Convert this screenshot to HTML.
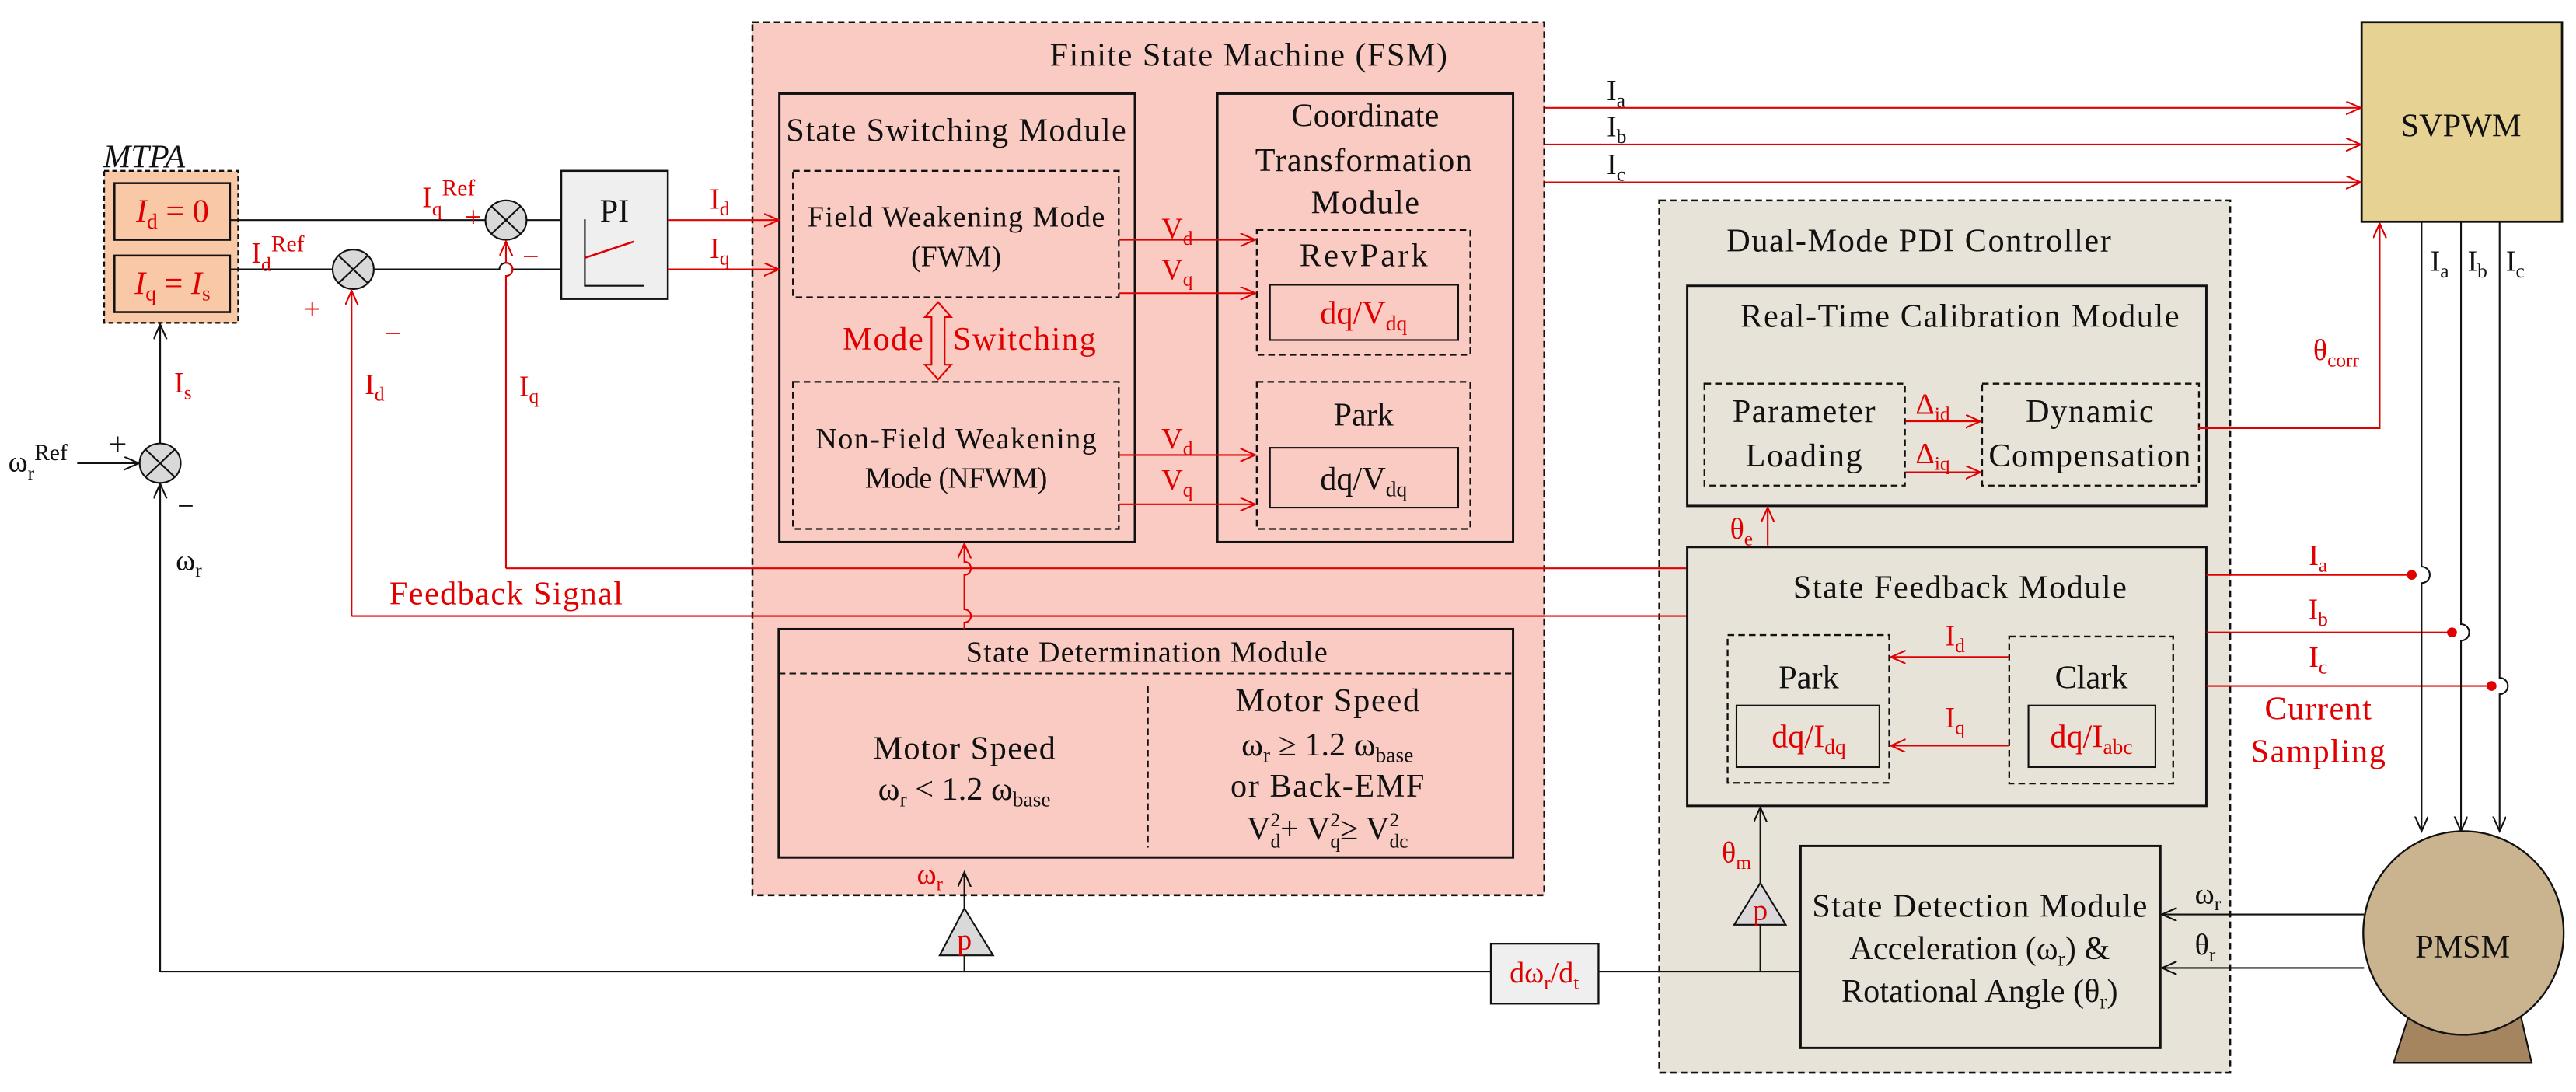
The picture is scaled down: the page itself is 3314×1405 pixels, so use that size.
<!DOCTYPE html>
<html><head><meta charset="utf-8"><style>
html,body{margin:0;padding:0;background:#fff;}
svg{display:block;}
svg text{font-family:"Liberation Serif","Times New Roman",serif;font-size:20px;fill:#111;}
svg text.r{fill:#e00000;}
svg text.s{font-size:18px;}
svg text.c{text-anchor:middle;}
</style></head><body>
<svg width="3314" height="1405" viewBox="0 0 1568 664.8" preserveAspectRatio="none" xmlns="http://www.w3.org/2000/svg" font-family="Liberation Serif, serif">
<defs>
<marker id="ab" markerUnits="userSpaceOnUse" markerWidth="12" markerHeight="10" refX="9" refY="4" orient="auto"><path d="M0,0 L9,4 L0,8" fill="none" stroke="#111" stroke-width="1"/></marker>
<marker id="ar" markerUnits="userSpaceOnUse" markerWidth="12" markerHeight="10" refX="9" refY="4" orient="auto"><path d="M0,0 L9,4 L0,8" fill="none" stroke="#e00000" stroke-width="1"/></marker>
</defs>

<rect x="458" y="13.6" width="482" height="531.4" fill="#f9cbc3" stroke="#111" stroke-width="1.2" stroke-dasharray="4,2.5"/>
<rect x="1010" y="122" width="347.5" height="531" fill="#e8e3d8" stroke="#111" stroke-width="1.2" stroke-dasharray="4,2.5"/>

<text x="760" y="40" class="c" textLength="242">Finite State Machine (FSM)</text>
<rect x="474.4" y="57" width="216.4" height="273" fill="none" stroke="#111" stroke-width="1.4"/>
<text x="582" y="86" class="c" textLength="207">State Switching Module</text>
<rect x="482.7" y="104" width="198.3" height="77" fill="none" stroke="#111" stroke-width="1.1" stroke-dasharray="4,2.5"/>
<text x="582" y="138" class="c s" textLength="181">Field Weakening Mode</text>
<text x="582" y="162" class="c s">(FWM)</text>
<text x="513" y="213" class="r" textLength="49">Mode</text>
<text x="580" y="213" class="r" textLength="87">Switching</text>
<path d="M571,184 L579,193 L575,193 L575,222 L579,222 L571,231 L563,222 L567,222 L567,193 L563,193 Z" fill="none" stroke="#e00000" stroke-width="1"/>
<rect x="482.7" y="232.5" width="198.3" height="89.5" fill="none" stroke="#111" stroke-width="1.1" stroke-dasharray="4,2.5"/>
<text x="582" y="273" class="c s" textLength="171">Non-Field Weakening</text>
<text x="582" y="297" class="c s" textLength="111">Mode (NFWM)</text>

<rect x="741" y="57" width="180" height="273" fill="none" stroke="#111" stroke-width="1.4"/>
<text x="831" y="77" class="c" textLength="90">Coordinate</text>
<text x="830" y="104" class="c" textLength="132">Transformation</text>
<text x="831" y="130" class="c" textLength="66">Module</text>
<rect x="765" y="140" width="130" height="76" fill="none" stroke="#111" stroke-width="1.1" stroke-dasharray="4,2.5"/>
<text x="830" y="162" class="c" textLength="78">RevPark</text>
<rect x="773" y="173.4" width="114.6" height="33.6" fill="none" stroke="#111" stroke-width="1"/>
<text x="830" y="197" class="c r">dq/V<tspan font-size="13" dy="4">dq</tspan></text>
<rect x="765" y="232.5" width="130" height="89.5" fill="none" stroke="#111" stroke-width="1.1" stroke-dasharray="4,2.5"/>
<text x="830" y="259" class="c">Park</text>
<rect x="773" y="272.6" width="114.6" height="36.4" fill="none" stroke="#111" stroke-width="1"/>
<text x="830" y="298" class="c">dq/V<tspan font-size="13" dy="4">dq</tspan></text>

<g stroke="#e00000" stroke-width="1" fill="none" marker-end="url(#ar)">
<path d="M681,146 H764"/><path d="M681,178.5 H764"/><path d="M681,277 H764"/><path d="M681,307 H764"/>
</g>
<text x="707" y="145" class="r s">V<tspan font-size="12" dy="4">d</tspan></text>
<text x="707" y="170" class="r s">V<tspan font-size="12" dy="4">q</tspan></text>
<text x="707" y="273" class="r s">V<tspan font-size="12" dy="4">d</tspan></text>
<text x="707" y="298" class="r s">V<tspan font-size="12" dy="4">q</tspan></text>

<rect x="474" y="383" width="447" height="139" fill="none" stroke="#111" stroke-width="1.4"/>
<line x1="474" y1="410" x2="921" y2="410" stroke="#111" stroke-width="1" stroke-dasharray="4,2.5"/>
<line x1="698.7" y1="417.6" x2="698.7" y2="516" stroke="#111" stroke-width="1" stroke-dasharray="4,2.5"/>
<text x="698" y="403" class="c s" textLength="220">State Determination Module</text>
<text x="587" y="462" class="c" textLength="111">Motor Speed</text>
<text x="587" y="487" class="c">ω<tspan font-size="13" dy="4">r</tspan><tspan dy="-4"> &lt; 1.2 ω</tspan><tspan font-size="13" dy="4">base</tspan></text>
<text x="808" y="433" class="c" textLength="112">Motor Speed</text>
<text x="808" y="460" class="c">ω<tspan font-size="13" dy="4">r</tspan><tspan dy="-4"> ≥ 1.2 ω</tspan><tspan font-size="13" dy="4">base</tspan></text>
<text x="808" y="485" class="c" textLength="118">or Back-EMF</text>
<text x="808" y="511" class="c">V<tspan font-size="12" dy="-8">2</tspan><tspan font-size="12" dx="-6" dy="13">d</tspan><tspan dy="-5">+ V</tspan><tspan font-size="12" dy="-8">2</tspan><tspan font-size="12" dx="-6" dy="13">q</tspan><tspan dy="-5">≥ V</tspan><tspan font-size="12" dy="-8">2</tspan><tspan font-size="12" dx="-6" dy="13">dc</tspan></text>

<path d="M587,383 V379 A4,4 0 0 0 587,371 V350 A4,4 0 0 0 587,342 V331" fill="none" stroke="#e00000" stroke-width="1" marker-end="url(#ar)"/>

<text x="63" y="102" font-style="italic" font-size="21">MTPA</text>
<rect x="63.4" y="104" width="81.6" height="92.5" fill="#f8c8a7" stroke="#111" stroke-width="1.1" stroke-dasharray="3,2"/>
<rect x="69.7" y="111.5" width="70.3" height="34.5" fill="none" stroke="#111" stroke-width="1.2"/>
<rect x="69.7" y="155.6" width="70.3" height="34.4" fill="none" stroke="#111" stroke-width="1.2"/>
<text x="105" y="135" class="c r" font-style="italic">I<tspan font-size="13" dy="4" font-style="normal">d</tspan><tspan dy="-4" font-style="normal"> = 0</tspan></text>
<text x="105" y="179" class="c r" font-style="italic">I<tspan font-size="13" dy="4" font-style="normal">q</tspan><tspan dy="-4" font-style="normal"> = </tspan>I<tspan font-size="13" dy="4" font-style="normal">s</tspan></text>

<g fill="#d9d9d9" stroke="#111" stroke-width="1">
<ellipse cx="308" cy="134" rx="12.5" ry="12"/>
<ellipse cx="215" cy="164" rx="12.5" ry="12"/>
<ellipse cx="97.5" cy="282" rx="12.5" ry="12"/>
</g>
<g stroke="#111" stroke-width="1">
<path d="M299,125.5 L317,142.5 M317,125.5 L299,142.5"/>
<path d="M206,155.5 L224,172.5 M224,155.5 L206,172.5"/>
<path d="M88.5,273.5 L106.5,290.5 M106.5,273.5 L88.5,290.5"/>
</g>

<rect x="341.6" y="104" width="64.9" height="78" fill="#efefef" stroke="#111" stroke-width="1.2"/>
<text x="374" y="135" class="c" font-size="24">PI</text>
<path d="M356,133.5 V174 H392" fill="none" stroke="#111" stroke-width="1"/>
<line x1="356" y1="157" x2="386" y2="147" stroke="#e00000" stroke-width="1.2"/>

<g stroke="#111" stroke-width="1" fill="none">
<path d="M140,134 H295.5"/><path d="M320.5,134 H341.6"/>
<path d="M140,164 H202.5"/>
<path d="M227.5,164 H304 A4,4 0 0 1 312,164 H341.6"/>
<path d="M97.5,270 V197.5" marker-end="url(#ab)"/>
<path d="M47,282 H84.5" marker-end="url(#ab)"/>
<path d="M97.5,591.5 V294.5" marker-end="url(#ab)"/>
<path d="M97.5,591.5 H907.5"/>
<path d="M973,591.5 H1096"/>
<path d="M587,591.5 V581.6"/>
<path d="M587,553 V531" marker-end="url(#ab)"/>
<path d="M1071.5,591.5 V563"/>
<path d="M1071.5,537.6 V491.5" marker-end="url(#ab)"/>
</g>

<g stroke="#e00000" stroke-width="1" fill="none">
<path d="M406.5,134 H474" marker-end="url(#ar)"/>
<path d="M406.5,164 H474" marker-end="url(#ar)"/>
<path d="M308,346 V168 A4,4 0 0 0 308,160 V147" marker-end="url(#ar)"/>
<path d="M308,346 H1027"/>
<path d="M214,375 V177" marker-end="url(#ar)"/>
<path d="M214,375 H1027"/>
</g>
<text x="432" y="127" class="r s">I<tspan font-size="12" dy="4">d</tspan></text>
<text x="432" y="157" class="r s">I<tspan font-size="12" dy="4">q</tspan></text>
<text x="257" y="126" class="r s">I<tspan font-size="12" dy="5">q</tspan><tspan font-size="14" dy="-12">Ref</tspan></text>
<text x="283" y="138" class="r s">+</text>
<text x="318" y="162" class="r s">−</text>
<text x="153" y="160" class="r s">I<tspan font-size="12" dy="5">d</tspan><tspan font-size="14" dy="-12">Ref</tspan></text>
<text x="185" y="194" class="r s">+</text>
<text x="234" y="209" class="r s">−</text>
<text x="222" y="240" class="r s">I<tspan font-size="12" dy="4">d</tspan></text>
<text x="316" y="241" class="r s">I<tspan font-size="12" dy="4">q</tspan></text>
<text x="106" y="239" class="r s">I<tspan font-size="12" dy="4">s</tspan></text>
<text x="5" y="287" class="s">ω<tspan font-size="12" dy="5">r</tspan><tspan font-size="14" dy="-12">Ref</tspan></text>
<text x="66" y="277" font-size="13">+</text>
<text x="108" y="314" class="s">−</text>
<text x="107" y="347" class="s">ω<tspan font-size="12" dy="4">r</tspan></text>
<text x="237" y="368" class="r" textLength="142">Feedback Signal</text>

<path d="M572,581.6 L587,553 L604.5,581.6 Z" fill="#d9d9d9" stroke="#111" stroke-width="1"/>
<text x="587" y="578" class="c r s">p</text>
<text x="566" y="538" class="c r s">ω<tspan font-size="12" dy="4">r</tspan></text>
<rect x="907.5" y="574.5" width="65.5" height="36.5" fill="#efefef" stroke="#111" stroke-width="1.1"/>
<text x="940" y="598" class="c r s">dω<tspan font-size="12" dy="4">r</tspan><tspan dy="-4">/d</tspan><tspan font-size="12" dy="4">t</tspan></text>

<rect x="1437.5" y="13.6" width="122" height="121.4" fill="#e6d293" stroke="#111" stroke-width="1.3"/>
<text x="1498" y="83" class="c" font-size="23">SVPWM</text>
<g stroke="#e00000" stroke-width="1" fill="none" marker-end="url(#ar)">
<path d="M940,65.7 H1437"/><path d="M940,88 H1437"/><path d="M940,111 H1437"/>
</g>
<text x="978" y="61" class="s">I<tspan font-size="12" dy="4">a</tspan></text>
<text x="978" y="83" class="s">I<tspan font-size="12" dy="4">b</tspan></text>
<text x="978" y="106" class="s">I<tspan font-size="12" dy="4">c</tspan></text>

<text x="1168" y="153" class="c" textLength="234">Dual-Mode PDI Controller</text>
<rect x="1027" y="174" width="316" height="134" fill="none" stroke="#111" stroke-width="1.4"/>
<text x="1193" y="199" class="c" textLength="267">Real-Time Calibration Module</text>
<rect x="1037.5" y="233.6" width="122" height="62" fill="none" stroke="#111" stroke-width="1.1" stroke-dasharray="4,2.5"/>
<text x="1098" y="257" class="c" textLength="87">Parameter</text>
<text x="1098" y="284" class="c" textLength="71">Loading</text>
<rect x="1206.5" y="233.6" width="132" height="62" fill="none" stroke="#111" stroke-width="1.1" stroke-dasharray="4,2.5"/>
<text x="1272" y="257" class="c" textLength="78">Dynamic</text>
<text x="1272" y="284" class="c" textLength="123">Compensation</text>
<g stroke="#e00000" stroke-width="1" fill="none" marker-end="url(#ar)">
<path d="M1160,256.5 H1205.5"/><path d="M1160,287.5 H1205.5"/>
<path d="M1338,260.7 H1448.5 V136"/>
<path d="M1076,332 V309"/>
</g>
<text x="1166" y="252" class="r s">Δ<tspan font-size="12" dy="4">id</tspan></text>
<text x="1166" y="282" class="r s">Δ<tspan font-size="12" dy="4">iq</tspan></text>
<text x="1422" y="219" class="c r s">θ<tspan font-size="12" dy="4">corr</tspan></text>
<text x="1060" y="328" class="c r s">θ<tspan font-size="12" dy="4">e</tspan></text>

<rect x="1027" y="333" width="316" height="157.6" fill="none" stroke="#111" stroke-width="1.4"/>
<text x="1193" y="364" class="c" textLength="203">State Feedback Module</text>
<rect x="1051.6" y="386.6" width="98.4" height="90" fill="none" stroke="#111" stroke-width="1.1" stroke-dasharray="4,2.5"/>
<text x="1101" y="419" class="c">Park</text>
<rect x="1057" y="429.5" width="87" height="37.5" fill="none" stroke="#111" stroke-width="1"/>
<text x="1101" y="455" class="c r">dq/I<tspan font-size="13" dy="4">dq</tspan></text>
<rect x="1223" y="387.5" width="99.8" height="89.5" fill="none" stroke="#111" stroke-width="1.1" stroke-dasharray="4,2.5"/>
<text x="1273" y="419" class="c">Clark</text>
<rect x="1234.7" y="429.5" width="77.3" height="37.5" fill="none" stroke="#111" stroke-width="1"/>
<text x="1273" y="455" class="c r">dq/I<tspan font-size="13" dy="4">abc</tspan></text>
<g stroke="#e00000" stroke-width="1" fill="none" marker-end="url(#ar)">
<path d="M1223,400 H1151"/><path d="M1223,454 H1151"/>
</g>
<text x="1190" y="393" class="c r s">I<tspan font-size="12" dy="4">d</tspan></text>
<text x="1190" y="443" class="c r s">I<tspan font-size="12" dy="4">q</tspan></text>

<g stroke="#e00000" stroke-width="1" fill="none">
<path d="M1343,350 H1468"/><path d="M1343,385 H1492.5"/><path d="M1343,417.6 H1516.6"/>
</g>
<g fill="#e00000"><circle cx="1468" cy="350" r="3"/><circle cx="1492.5" cy="385" r="3"/><circle cx="1516.6" cy="417.6" r="3"/></g>
<text x="1411" y="344" class="c r s">I<tspan font-size="12" dy="4">a</tspan></text>
<text x="1411" y="377" class="c r s">I<tspan font-size="12" dy="4">b</tspan></text>
<text x="1411" y="406" class="c r s">I<tspan font-size="12" dy="4">c</tspan></text>
<text x="1411" y="438" class="c r" textLength="65">Current</text>
<text x="1411" y="464" class="c r" textLength="82">Sampling</text>

<g stroke="#111" stroke-width="1" fill="none" marker-end="url(#ab)">
<path d="M1474,135 V345 A5,5 0 0 1 1474,355 V506"/>
<path d="M1498,135 V380 A5,5 0 0 1 1498,390 V506"/>
<path d="M1521.5,135 V412.6 A5,5 0 0 1 1521.5,422.6 V506"/>
</g>
<text x="1485" y="165" class="c s">I<tspan font-size="12" dy="4">a</tspan></text>
<text x="1508" y="165" class="c s">I<tspan font-size="12" dy="4">b</tspan></text>
<text x="1531" y="165" class="c s">I<tspan font-size="12" dy="4">c</tspan></text>

<path d="M1466,619 L1534.5,619 L1541,647 L1457,647 Z" fill="#a4855f" stroke="#111" stroke-width="1"/>
<ellipse cx="1499.5" cy="568" rx="61" ry="62" fill="#c9b48f" stroke="#111" stroke-width="1.1"/>
<text x="1499" y="583" class="c" font-size="23">PMSM</text>

<rect x="1096" y="515" width="219" height="123" fill="none" stroke="#111" stroke-width="1.4"/>
<text x="1205" y="558" class="c" textLength="204">State Detection Module</text>
<text x="1205" y="584" class="c">Acceleration (ω<tspan font-size="13" dy="4">r</tspan><tspan dy="-4">) &amp;</tspan></text>
<text x="1205" y="610" class="c">Rotational Angle (θ<tspan font-size="13" dy="4">r</tspan><tspan dy="-4">)</tspan></text>
<g stroke="#111" stroke-width="1" fill="none" marker-end="url(#ab)">
<path d="M1439,556.7 H1316"/><path d="M1439,589.3 H1316"/>
</g>
<text x="1336" y="550" class="s">ω<tspan font-size="12" dy="4">r</tspan></text>
<text x="1336" y="581" class="s">θ<tspan font-size="12" dy="4">r</tspan></text>

<path d="M1055.6,563 L1071.5,537.6 L1087,563 Z" fill="#d9d9d9" stroke="#111" stroke-width="1"/>
<text x="1071.5" y="560" class="c r s">p</text>
<text x="1057" y="525" class="c r s">θ<tspan font-size="12" dy="4">m</tspan></text>
</svg>
</body></html>
